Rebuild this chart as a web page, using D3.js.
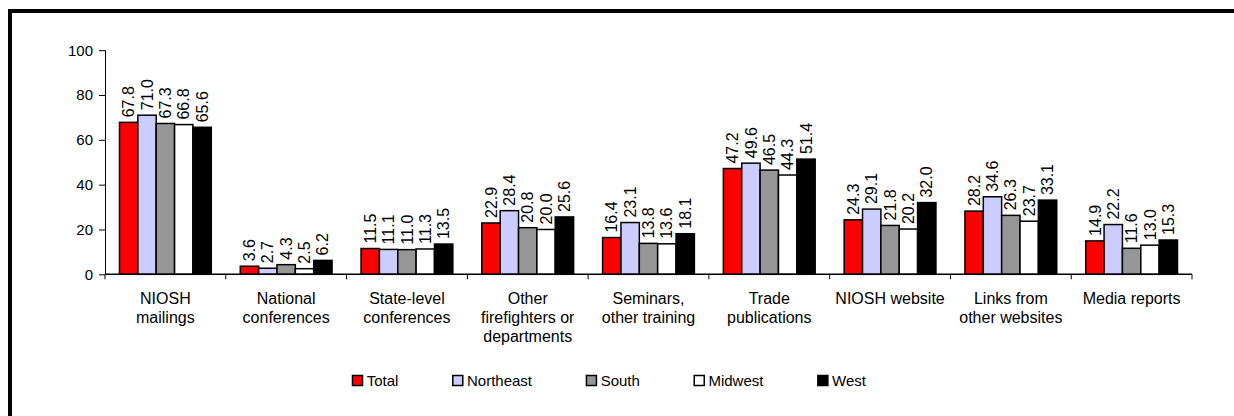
<!DOCTYPE html>
<html>
<head>
<meta charset="utf-8">
<script src="https://cdn.jsdelivr.net/npm/d3@7"></script>
<style>
  html, body { margin: 0; padding: 0; background: #fff; }
  svg { display: block; font-family: "Liberation Sans", Arial, sans-serif; }
</style>
</head>
<body>
<svg id="chart" width="1234" height="416"></svg>
<script>
// Sources of information, percent of respondents by region
const categories = [
  "NIOSH\nmailings",
  "National\nconferences",
  "State-level\nconferences",
  "Other\nfirefighters or\ndepartments",
  "Seminars,\nother training",
  "Trade\npublications",
  "NIOSH website",
  "Links from\nother websites",
  "Media reports"
];
const seriesNames = ["Total", "Northeast", "South", "Midwest", "West"];
const seriesColors = ["#ff0000", "#ccccff", "#969696", "#ffffff", "#000000"];

const totalValues     = [67.8, 3.6, 11.5, 22.9, 16.4, 47.2, 24.3, 28.2, 14.9];
const northeastValues = [71.0, 2.7, 11.1, 28.4, 23.1, 49.6, 29.1, 34.6, 22.2];
const southValues     = [67.3, 4.3, 11.0, 20.8, 13.8, 46.5, 21.8, 26.3, 11.6];
const midwestValues   = [66.8, 2.5, 11.3, 20.0, 13.6, 44.3, 20.2, 23.7, 13.0];
const westValues      = [65.6, 6.2, 13.5, 25.6, 18.1, 51.4, 32.0, 33.1, 15.3];

const yTicks = [0, 20, 40, 60, 80, 100];

const seriesValues = [totalValues, northeastValues, southValues, midwestValues, westValues];

const svg = d3.select("#chart");

// outer frame
svg.append("rect")
  .attr("x", 10).attr("y", 11)
  .attr("width", 1400).attr("height", 600)
  .attr("fill", "none").attr("stroke", "#000").attr("stroke-width", 4);

const plot = { left: 105, right: 1192, top: 50.2, bottom: 274.3 };

const x0 = d3.scaleBand()
  .domain(d3.range(categories.length))
  .range([plot.left, plot.right])
  .paddingInner(0).paddingOuter(0);

const bw = x0.bandwidth();
const x1 = d3.scaleBand()
  .domain(d3.range(seriesNames.length))
  .range([bw * 0.12, bw * 0.88]);

const y = d3.scaleLinear().domain([0, 100]).range([plot.bottom, plot.top]);

// y axis
const yAxis = svg.append("g")
  .attr("transform", `translate(${plot.left},0)`)
  .call(d3.axisLeft(y).tickValues(yTicks).tickSize(6).tickPadding(6).tickFormat(d3.format("d")));
yAxis.select(".domain").attr("stroke", "#000").attr("d", `M0.5,${y(100)}V${y(0)}`);
yAxis.selectAll(".tick line").attr("stroke", "#000");
yAxis.selectAll(".tick text")
  .attr("font-size", 15).attr("fill", "#000")
  .attr("font-family", "Liberation Sans, Arial, sans-serif");

// bars
const groups = svg.append("g").selectAll("g")
  .data(categories.map((c, i) => i))
  .join("g")
  .attr("transform", i => `translate(${x0(i)},0)`);

groups.each(function(ci) {
  const g = d3.select(this);
  const vals = seriesValues.map((arr, si) => ({ si, v: arr[ci] }));
  g.selectAll("rect")
    .data(vals)
    .join("rect")
    .attr("x", d => x1(d.si))
    .attr("y", d => y(d.v))
    .attr("width", x1.bandwidth())
    .attr("height", d => y(0) - y(d.v))
    .attr("fill", d => seriesColors[d.si])
    .attr("stroke", "#000")
    .attr("stroke-width", 1.5);
  g.selectAll("text.val")
    .data(vals)
    .join("text")
    .attr("class", "val")
    .attr("transform", d => `translate(${x1(d.si) + x1.bandwidth() / 2},${y(d.v) - 5}) rotate(-90)`)
    .attr("dy", "0.35em")
    .attr("font-size", 16)
    .attr("fill", "#000")
    .text(d => d.v.toFixed(1));
});

// x axis line and category ticks
const xAxis = svg.append("g");
xAxis.append("line")
  .attr("x1", plot.left).attr("x2", plot.right)
  .attr("y1", plot.bottom).attr("y2", plot.bottom)
  .attr("stroke", "#000").attr("stroke-width", 1.5);
xAxis.selectAll("line.tick")
  .data(d3.range(categories.length + 1))
  .join("line")
  .attr("class", "tick")
  .attr("x1", i => i < categories.length ? x0(i) : x0(i - 1) + bw)
  .attr("x2", i => i < categories.length ? x0(i) : x0(i - 1) + bw)
  .attr("y1", plot.bottom).attr("y2", plot.bottom + 5)
  .attr("stroke", "#000");

// category labels
xAxis.selectAll("text.cat")
  .data(categories)
  .join("text")
  .attr("class", "cat")
  .attr("text-anchor", "middle")
  .attr("font-size", 16)
  .attr("fill", "#000")
  .each(function(c, i) {
    const t = d3.select(this);
    c.split("\n").forEach((line, li) => {
      t.append("tspan")
        .attr("x", x0(i) + bw / 2)
        .attr("y", 304 + li * 19)
        .text(line);
    });
  });

// legend
const legend = svg.append("g").attr("font-size", 15);
let lx = 352.5;
seriesNames.forEach((name, si) => {
  legend.append("rect")
    .attr("x", lx).attr("y", 375.5)
    .attr("width", 10).attr("height", 10)
    .attr("fill", seriesColors[si])
    .attr("stroke", "#000").attr("stroke-width", 1.5);
  const t = legend.append("text")
    .attr("x", lx + 14.2).attr("y", 386)
    .attr("fill", "#000")
    .text(name);
  lx += 14.2 + t.node().getComputedTextLength() + 54.4;
});
</script>
</body>
</html>
